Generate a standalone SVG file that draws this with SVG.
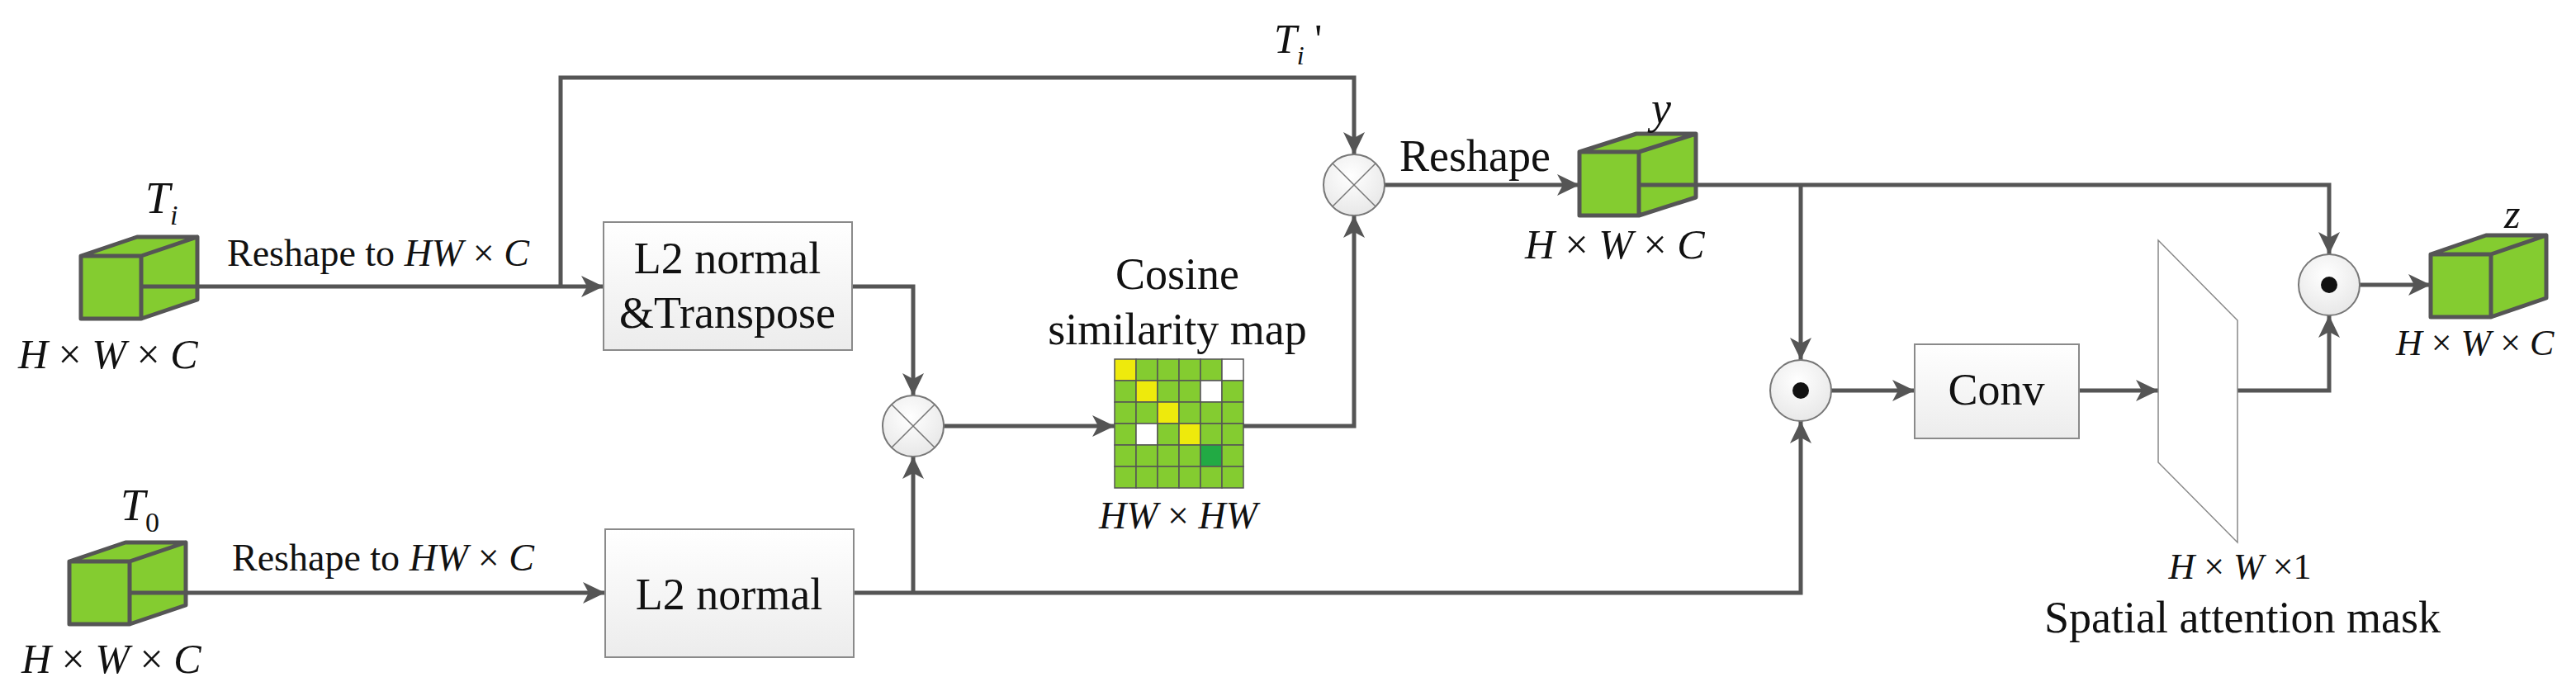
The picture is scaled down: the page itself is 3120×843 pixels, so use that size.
<svg xmlns="http://www.w3.org/2000/svg" width="3120" height="843" viewBox="0 0 3120 843">
<defs>
<marker id="ah" markerUnits="userSpaceOnUse" markerWidth="28" markerHeight="26" refX="27" refY="13" orient="auto"><path d="M0,0 L27,13 L0,26 L7,13 Z" fill="#555"/></marker>
<linearGradient id="bg" x1="0" y1="0" x2="0" y2="1"><stop offset="0" stop-color="#fff"/><stop offset="1" stop-color="#ececec"/></linearGradient>
<radialGradient id="cg" cx="0.45" cy="0.35" r="0.7"><stop offset="0" stop-color="#fff"/><stop offset="1" stop-color="#e6e6e6"/></radialGradient>
<style>
.c{fill:none;stroke:#555;stroke-width:5;marker-end:url(#ah)}
.n{fill:none;stroke:#555;stroke-width:5}
.cube{fill:#84cc30;stroke:#555;stroke-width:5;stroke-linejoin:round}
.box{fill:url(#bg);stroke:#8a8a8a;stroke-width:2}
.op{fill:url(#cg);stroke:#777;stroke-width:2}
.x{stroke:#777;stroke-width:1.5}
text{font-family:"Liberation Serif","Times New Roman",serif;fill:#111}
.i{font-style:italic}
.g{fill:#84cc30}.yl{fill:#eeea0c}.w{fill:#fff}.dg{fill:#22aa44}
.grid{stroke:#555;stroke-width:1.5}
</style>
</defs>
<g id="connectors">
<path class="c" d="M171,347 H731"/>
<path class="c" d="M158,718 H733"/>
<path class="c" d="M679,347 V94 H1640 V187"/>
<path class="c" d="M1032,347 H1106 V479"/>
<path class="c" d="M1034,718 H2181 V510"/>
<path class="c" d="M1106,718 V553"/>
<path class="c" d="M1143,516 H1350"/>
<path class="c" d="M1505,516 H1640 V261"/>
<path class="c" d="M1677,224 H1913"/>
<path class="c" d="M1985,224 H2821 V308"/>
<path class="c" d="M2181,224 V436"/>
<path class="c" d="M2218,473 H2319"/>
<path class="c" d="M2518,473 H2614"/>
<path class="c" d="M2710,473 H2821 V382"/>
<path class="c" d="M2858,345 H2944"/>
<text x="275" y="322" font-size="46">Reshape to <tspan class="i">HW</tspan> × <tspan class="i">C</tspan></text>
<text x="281" y="691" font-size="46">Reshape to  <tspan class="i">HW</tspan> × <tspan class="i">C</tspan></text>
<text x="1695" y="207" font-size="54">Reshape</text>
<text x="1543" y="64" font-size="50" class="i">T<tspan font-size="32" dy="14">i</tspan><tspan font-style="normal" dy="-14"> '</tspan></text>
</g>
<g id="Ti">
<path class="cube" d="M98,310 h73 v76 h-73 Z M98,310 l68,-23 h73 l-68,23 Z M171,310 l68,-23 v76 l-68,23 Z"/>
<path class="n" d="M171,347 H239"/>
<text x="176" y="258" font-size="54" class="i">T<tspan font-size="34" dy="14">i</tspan></text>
<text x="22" y="446" font-size="50" class="i">H <tspan font-style="normal">×</tspan> W <tspan font-style="normal">×</tspan> C</text>
</g>
<g id="T0">
<path class="cube" d="M84,680 h73 v76 h-73 Z M84,680 l68,-23 h73 l-68,23 Z M157,680 l68,-23 v76 l-68,23 Z"/>
<path class="n" d="M157,718 H225"/>
<text x="146" y="630" font-size="54" class="i">T<tspan font-size="34" dy="14" font-style="normal">0</tspan></text>
<text x="26" y="815" font-size="50" class="i">H <tspan font-style="normal">×</tspan> W <tspan font-style="normal">×</tspan> C</text>
</g>
<g id="l2t">
<rect class="box" x="731" y="269" width="301" height="155"/>
<text x="881" y="331" font-size="54" text-anchor="middle">L2 normal</text>
<text x="881" y="397" font-size="54" text-anchor="middle">&amp;Transpose</text>
</g>
<g id="l2">
<rect class="box" x="733" y="641" width="301" height="155"/>
<text x="883" y="738" font-size="54" text-anchor="middle">L2 normal</text>
</g>
<g id="mul1">
<circle class="op" cx="1106" cy="516" r="37"/>
<path class="x" d="M1080,490 L1132,542 M1132,490 L1080,542"/>
</g>
<g id="mul2">
<circle class="op" cx="1640" cy="224" r="37"/>
<path class="x" d="M1614,198 L1666,250 M1666,198 L1614,250"/>
</g>
<g id="cosmap">
<text x="1426" y="350" font-size="54" text-anchor="middle">Cosine</text>
<text x="1426" y="417" font-size="54" text-anchor="middle">similarity map</text>
<g class="grid">
<rect class="yl" x="1350" y="435" width="26" height="26"/><rect class="g" x="1376" y="435" width="26" height="26"/><rect class="g" x="1402" y="435" width="26" height="26"/><rect class="g" x="1428" y="435" width="26" height="26"/><rect class="g" x="1454" y="435" width="26" height="26"/><rect class="w" x="1480" y="435" width="26" height="26"/>
<rect class="g" x="1350" y="461" width="26" height="26"/><rect class="yl" x="1376" y="461" width="26" height="26"/><rect class="g" x="1402" y="461" width="26" height="26"/><rect class="g" x="1428" y="461" width="26" height="26"/><rect class="w" x="1454" y="461" width="26" height="26"/><rect class="g" x="1480" y="461" width="26" height="26"/>
<rect class="g" x="1350" y="487" width="26" height="26"/><rect class="g" x="1376" y="487" width="26" height="26"/><rect class="yl" x="1402" y="487" width="26" height="26"/><rect class="g" x="1428" y="487" width="26" height="26"/><rect class="g" x="1454" y="487" width="26" height="26"/><rect class="g" x="1480" y="487" width="26" height="26"/>
<rect class="g" x="1350" y="513" width="26" height="26"/><rect class="w" x="1376" y="513" width="26" height="26"/><rect class="g" x="1402" y="513" width="26" height="26"/><rect class="yl" x="1428" y="513" width="26" height="26"/><rect class="g" x="1454" y="513" width="26" height="26"/><rect class="g" x="1480" y="513" width="26" height="26"/>
<rect class="g" x="1350" y="539" width="26" height="26"/><rect class="g" x="1376" y="539" width="26" height="26"/><rect class="g" x="1402" y="539" width="26" height="26"/><rect class="g" x="1428" y="539" width="26" height="26"/><rect class="dg" x="1454" y="539" width="26" height="26"/><rect class="g" x="1480" y="539" width="26" height="26"/>
<rect class="g" x="1350" y="565" width="26" height="26"/><rect class="g" x="1376" y="565" width="26" height="26"/><rect class="g" x="1402" y="565" width="26" height="26"/><rect class="g" x="1428" y="565" width="26" height="26"/><rect class="g" x="1454" y="565" width="26" height="26"/><rect class="g" x="1480" y="565" width="26" height="26"/>
</g>
<text x="1427" y="640" font-size="46" text-anchor="middle" class="i">HW <tspan font-style="normal">×</tspan> HW</text>
</g>
<g id="y">
<path class="cube" d="M1913,184 h72 v77 h-72 Z M1913,184 l69,-22 h72 l-69,22 Z M1985,184 l69,-22 v77 l-69,22 Z"/>
<path class="n" d="M1985,224 H2054"/>
<text x="2000" y="149" font-size="54" class="i">y</text>
<text x="1847" y="313" font-size="50" class="i">H <tspan font-style="normal">×</tspan> W <tspan font-style="normal">×</tspan> C</text>
</g>
<g id="dot1">
<circle class="op" cx="2181" cy="473" r="37"/>
<circle cx="2181" cy="473" r="10" fill="#111"/>
</g>
<g id="conv">
<rect class="box" x="2319" y="417" width="199" height="114"/>
<text x="2418" y="490" font-size="54" text-anchor="middle">Conv</text>
</g>
<g id="mask">
<polygon points="2614,291 2710,388 2710,657 2614,560" fill="#fff" stroke="#888" stroke-width="1.5"/>
<text x="2713" y="701" font-size="44" text-anchor="middle" class="i">H <tspan font-style="normal">×</tspan> W <tspan font-style="normal">×1</tspan></text>
<text x="2716" y="766" font-size="54" text-anchor="middle">Spatial attention mask</text>
</g>
<g id="dot2">
<circle class="op" cx="2821" cy="345" r="37"/>
<circle cx="2821" cy="345" r="10" fill="#111"/>
</g>
<g id="z">
<path class="cube" d="M2944,308 h73 v76 h-73 Z M2944,308 l67,-23 h73 l-67,23 Z M3017,308 l67,-23 v76 l-67,23 Z"/>
<text x="3033" y="276" font-size="50" class="i">z</text>
<text x="2902" y="430" font-size="44" class="i">H <tspan font-style="normal">×</tspan> W <tspan font-style="normal">×</tspan> C</text>
</g>
</svg>
